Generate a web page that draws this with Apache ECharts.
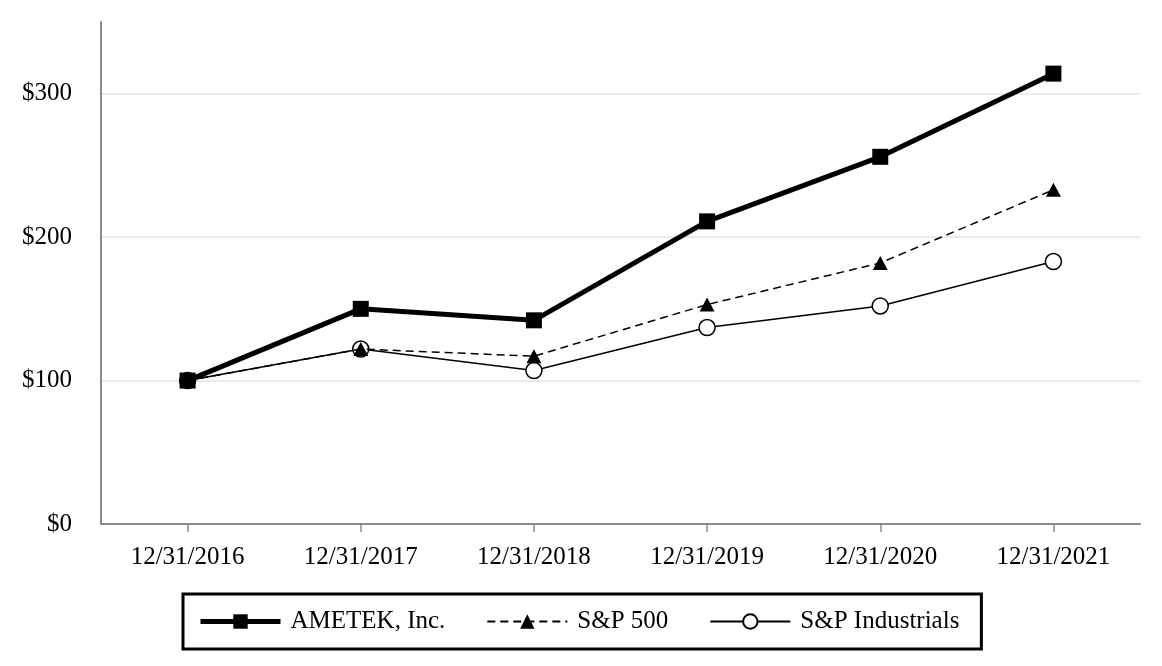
<!DOCTYPE html>
<html>
<head>
<meta charset="utf-8">
<script src="https://cdn.jsdelivr.net/npm/echarts@6/dist/echarts.min.js"></script>
<style>html,body{margin:0;padding:0;background:#fff;}#c{width:1162px;height:666px;}</style>
</head>
<body>
<div id="c"></div>
<script>
const categories = ['12/31/2016','12/31/2017','12/31/2018','12/31/2019','12/31/2020','12/31/2021'];
const ametek = [100, 150, 142, 211, 256, 314];
const sp500 = [100, 122, 117, 153, 182, 233];
const spIndustrials = [100, 122, 107, 137, 152, 183];
const yTicks = [0, 100, 200, 300];

const FONT = "'Liberation Serif','Times New Roman',serif";
const chart = echarts.init(document.getElementById('c'), null, {renderer: 'canvas'});
chart.setOption({
  backgroundColor: '#fff',
  animation: false,
  textStyle: {fontFamily: FONT, color: '#000'},
  grid: {left: 101, right: 22, top: 22, bottom: 142, containLabel: false},
  legend: {
    left: 183,
    top: 594,
    orient: 'horizontal',
    itemWidth: 80,
    itemHeight: 18,
    itemGap: 41,
    padding: [15, 22, 15, 15],
    borderColor: '#000',
    borderWidth: 3,
    textStyle: {fontFamily: FONT, fontSize: 25, color: '#000', padding: [0, 0, 0, 5]},
    data: [
      {name: 'AMETEK, Inc.', lineStyle: {width: 5}},
      {name: 'S&P 500'},
      {name: 'S&P Industrials'}
    ]
  },
  xAxis: {
    type: 'category',
    data: categories,
    boundaryGap: true,
    axisLine: {show: true, lineStyle: {color: '#8a8a8a', width: 2}},
    axisTick: {show: true, alignWithLabel: true, length: 8, lineStyle: {color: '#8a8a8a', width: 1.5}},
    axisLabel: {fontFamily: FONT, fontSize: 25, color: '#000', margin: 21},
    splitLine: {show: false}
  },
  yAxis: {
    type: 'value',
    min: 0,
    max: 350,
    interval: 100,
    axisLine: {show: true, lineStyle: {color: '#8a8a8a', width: 2}},
    axisTick: {show: false},
    axisLabel: {
      fontFamily: FONT, fontSize: 25, color: '#000', margin: 29,
      showMaxLabel: false,
      formatter: function (v) { return yTicks.indexOf(v) >= 0 ? '$' + v : ''; }
    },
    splitLine: {show: true, showMinLine: false, showMaxLine: false, lineStyle: {color: '#e3e3e3', width: 1.5}}
  },
  series: [
    {
      name: 'AMETEK, Inc.',
      type: 'line',
      data: ametek,
      z: 4,
      symbol: 'rect',
      symbolSize: 16,
      lineStyle: {color: '#000', width: 5},
      itemStyle: {color: '#000'}
    },
    {
      name: 'S&P 500',
      type: 'line',
      data: sp500,
      z: 3,
      symbol: 'triangle',
      symbolSize: [15, 14],
      lineStyle: {color: '#000', width: 1.5, type: [8, 5]},
      itemStyle: {color: '#000'}
    },
    {
      name: 'S&P Industrials',
      type: 'line',
      data: spIndustrials,
      z: 2,
      symbol: 'circle',
      symbolSize: 16,
      lineStyle: {color: '#000', width: 1.5},
      itemStyle: {color: '#fff', borderColor: '#000', borderWidth: 1.5}
    }
  ]
});
</script>
</body>
</html>
